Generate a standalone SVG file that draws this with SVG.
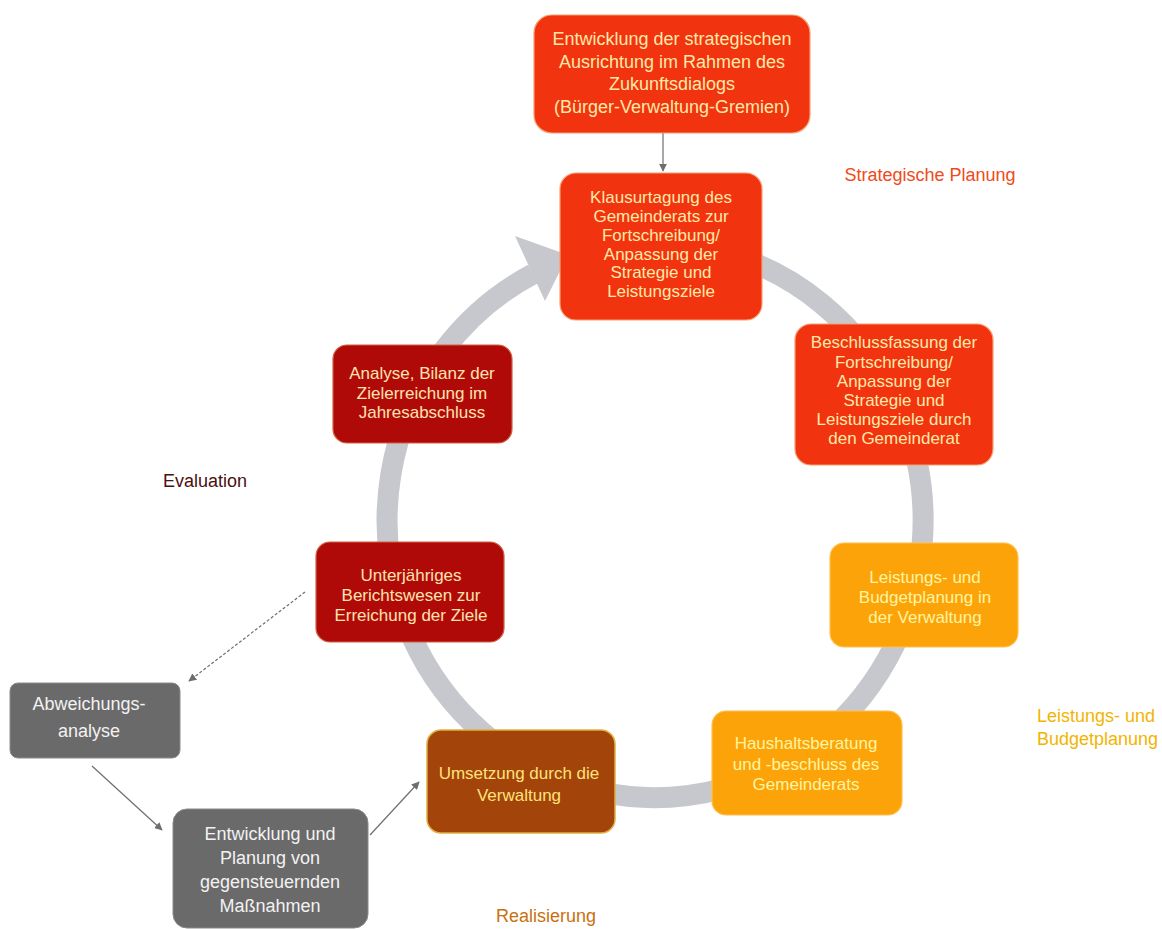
<svg xmlns="http://www.w3.org/2000/svg" width="1162" height="929" viewBox="0 0 1162 929">
<style>
text{font-family:"Liberation Sans",Arial,sans-serif;text-anchor:middle}
.t18{font-size:18px}
.t17{font-size:17px}
.red rect{fill:#F2330F;stroke:#F6A070;stroke-width:1.2}
.red text{fill:#FFE9A8}
.dark rect{fill:#B00A08;stroke:#D06040;stroke-width:1.2}
.dark text{fill:#FFE2B0}
.orange rect{fill:#FDA30A;stroke:#FFC050;stroke-width:1.2}
.orange text{fill:#FFF5A0}
.brown rect{fill:#A3440A;stroke:#E0B040;stroke-width:1.5}
.brown text{fill:#FFE27A}
.gray rect{fill:#6A6A6A;stroke:#8A8A8A;stroke-width:1}
.gray text{fill:#F2F2F2}
.conn{stroke:#6E6E6E;stroke-width:1.2;fill:none}
</style>
<defs>
<marker id="ah" viewBox="0 0 10 10" refX="9" refY="5" markerWidth="8" markerHeight="8" orient="auto" markerUnits="userSpaceOnUse">
<path d="M0,0 L10,5 L0,10 z" fill="#6E6E6E"/>
</marker>
</defs>
<rect width="1162" height="929" fill="#FFFFFF"/>
<g id="cycle">
<path d="M716.7,251 A268,277 0 1 1 533,274" fill="none" stroke="#C6C8CD" stroke-width="21"/>
<polygon points="515,236 568,255 545,301" fill="#C6C8CD"/>
</g>
<g id="connectors">
<line class="conn" x1="663" y1="133" x2="663" y2="171" marker-end="url(#ah)"/>
<line class="conn" x1="305" y1="592" x2="189" y2="681" stroke-dasharray="3,2" marker-end="url(#ah)"/>
<line class="conn" x1="92" y1="766" x2="162" y2="830" marker-end="url(#ah)"/>
<line class="conn" x1="370" y1="835" x2="419" y2="782" marker-end="url(#ah)"/>
</g>
<g id="n-zukunft" class="red t18">
<rect x="534" y="15" width="276" height="118" rx="18"/>
<text x="672" y="45">Entwicklung der strategischen</text>
<text x="672" y="67.5">Ausrichtung im Rahmen des</text>
<text x="672" y="90">Zukunftsdialogs</text>
<text x="672" y="112.5">(Bürger-Verwaltung-Gremien)</text>
</g>
<g id="n-klausur" class="red t17">
<rect x="560" y="173" width="202" height="147" rx="16"/>
<text x="661" y="203">Klausurtagung des</text>
<text x="661" y="222">Gemeinderats zur</text>
<text x="661" y="241">Fortschreibung/</text>
<text x="661" y="259.5">Anpassung der</text>
<text x="661" y="278">Strategie und</text>
<text x="661" y="297">Leistungsziele</text>
</g>
<g id="n-beschluss" class="red t17">
<rect x="795" y="324" width="198" height="141" rx="16"/>
<text x="894" y="348">Beschlussfassung der</text>
<text x="894" y="367.5">Fortschreibung/</text>
<text x="894" y="387">Anpassung der</text>
<text x="894" y="406">Strategie und</text>
<text x="894" y="425">Leistungsziele durch</text>
<text x="894" y="444">den Gemeinderat</text>
</g>
<g id="n-budget" class="orange t17">
<rect x="830" y="543" width="188" height="104" rx="14"/>
<text x="925" y="583">Leistungs- und</text>
<text x="925" y="603">Budgetplanung in</text>
<text x="925" y="623">der Verwaltung</text>
</g>
<g id="n-haushalt" class="orange t17">
<rect x="712" y="711" width="190" height="104" rx="14"/>
<text x="806" y="749">Haushaltsberatung</text>
<text x="806" y="770">und -beschluss des</text>
<text x="806" y="790">Gemeinderats</text>
</g>
<g id="n-umsetzung" class="brown t17">
<rect x="427" y="730" width="188" height="103" rx="14"/>
<text x="519" y="779">Umsetzung durch die</text>
<text x="519" y="801">Verwaltung</text>
</g>
<g id="n-bericht" class="dark t17">
<rect x="316" y="542" width="188" height="100" rx="14"/>
<text x="411" y="581">Unterjähriges</text>
<text x="411" y="601">Berichtswesen zur</text>
<text x="411" y="621">Erreichung der Ziele</text>
</g>
<g id="n-analyse" class="dark t17">
<rect x="333" y="345" width="179" height="98" rx="14"/>
<text x="422" y="379">Analyse, Bilanz der</text>
<text x="422" y="399">Zielerreichung im</text>
<text x="422" y="418">Jahresabschluss</text>
</g>
<g id="n-abweichung" class="gray t18">
<rect x="10" y="683" width="170" height="75" rx="8"/>
<text x="89" y="710">Abweichungs-</text>
<text x="89" y="737">analyse</text>
</g>
<g id="n-massnahmen" class="gray t18">
<rect x="173" y="809" width="195" height="119" rx="14"/>
<text x="270" y="840">Entwicklung und</text>
<text x="270" y="864">Planung von</text>
<text x="270" y="888">gegensteuernden</text>
<text x="270" y="912">Maßnahmen</text>
</g>
<g id="labels" class="t18">
<text x="930" y="181" fill="#F04A1A">Strategische Planung</text>
<text x="205" y="487" fill="#4A1010">Evaluation</text>
<text x="1037" y="722" fill="#F2B400" style="text-anchor:start">Leistungs- und</text>
<text x="1037" y="745" fill="#F2B400" style="text-anchor:start">Budgetplanung</text>
<text x="546" y="922" fill="#C87010">Realisierung</text>
</g>
</svg>
